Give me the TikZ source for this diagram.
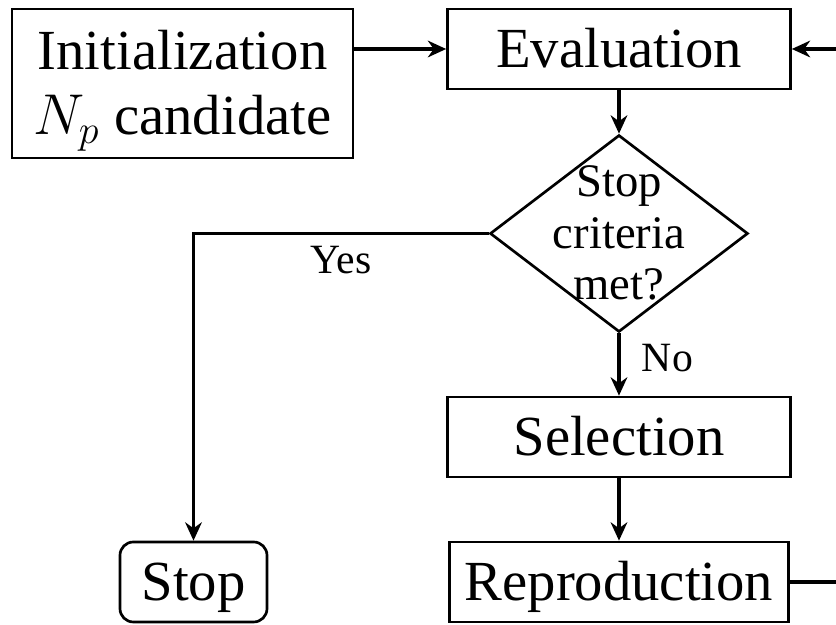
\documentclass[tikz,border=0pt]{standalone}
\usepackage{fontspec}
\setmainfont{Liberation Serif}
\usetikzlibrary{arrows.meta,shapes.geometric}

\begin{document}
\begin{tikzpicture}[>={Stealth[length=5.5pt,width=5pt]},x=0.3pt,y=-0.3pt,
  box/.style={draw,line width=0.8pt,minimum width=102.9pt,minimum height=24pt,inner sep=0pt,
    font=\fontsize{17}{19.5}\selectfont,text height=11.2pt,text depth=0pt},
  decision/.style={draw,diamond,line width=0.8pt,minimum width=77.4pt,minimum height=59.1pt,inner sep=0pt},
  flow/.style={->,line width=1.1pt},
  lbl/.style={font=\fontsize{12.5}{14}\selectfont}]
  \useasboundingbox (0,0) rectangle (836,625);
  % boxes
  \node[box,minimum width=102.3pt,minimum height=44.7pt] (init) at (182.5,83.5) {};
  \node[align=center,inner sep=0pt,font=\fontsize{17}{19.5}\selectfont] (initlbl) at (182.5,91) {Initialization\\$N_p$ candidate};
  \node[box] (eval) at (619,49) {Evaluation};
  \node[decision] (crit) at (619,233.5) {};
  \node[align=center,inner sep=0pt,font=\fontsize{14}{15.45}\selectfont] (critlbl) at (619,233) {Stop\\criteria\\met?};
  \node[box] (sel) at (619,437) {Selection};
  \node[box,minimum width=101.7pt] (repro) at (619,582) {Reproduction};
  \node[box,rounded corners=4pt,minimum width=44.1pt] (stop) at (193.5,582) {Stop};
  % connectors
  \draw[flow] (init.east |- eval) -- (eval);
  \draw[flow] (eval) -- (crit);
  \draw[flow] (crit) -- node[lbl,right,pos=0.4,xshift=3pt] (no) {No} (sel);
  \draw[flow] (sel) -- (repro);
  \draw[flow] (crit.west) -| node[lbl,below,pos=0.25] (yes) {Yes} (stop);
  \draw[flow] (repro.east) -- ++(80,0) |- (eval);
\end{tikzpicture}
\end{document}
